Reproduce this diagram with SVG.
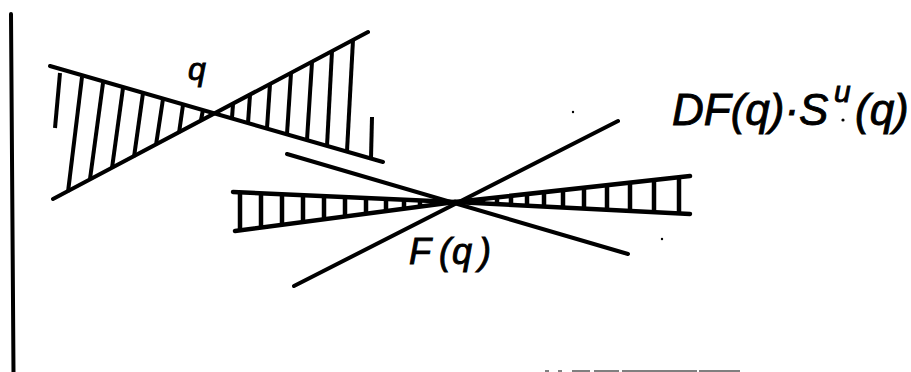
<svg xmlns="http://www.w3.org/2000/svg" width="911" height="372" viewBox="0 0 911 372">
<style>
.ln{stroke:#000;stroke-width:4;fill:none;stroke-linecap:round}
.ht{stroke:#000;stroke-width:4;fill:none;stroke-linecap:butt}
.lw{stroke-width:4.5}
.lbl{font-family:"Liberation Sans",Arial,sans-serif;font-style:italic;fill:#000;stroke:#000;stroke-width:0.9}
.gr{stroke:#808080;stroke-width:2;fill:none}
</style>
<rect width="911" height="372" fill="#fff"/>
<g id="frame">
<line class="ln" x1="11" y1="14" x2="13.5" y2="372"/>
<line class="gr" x1="545" y1="371" x2="549" y2="371"/>
<line class="gr" x1="558" y1="371" x2="562" y2="371"/>
<line class="gr" x1="572" y1="371" x2="590" y2="371"/>
<line class="gr" x1="594" y1="371" x2="619" y2="371"/>
<line class="gr" x1="622" y1="371" x2="697" y2="371"/>
<line class="gr" x1="699" y1="371" x2="740" y2="371"/>
</g>
<g id="node-q">
<line class="ln" x1="50" y1="66" x2="383" y2="162"/>
<line class="ln" x1="53" y1="199" x2="368" y2="32"/>
<g class="ht">
<line x1="60" y1="73" x2="55" y2="128"/>
<line x1="82" y1="77" x2="68" y2="192"/>
<line x1="103" y1="83" x2="90" y2="179"/>
<line x1="123" y1="88" x2="112" y2="168"/>
<line x1="143" y1="93" x2="134" y2="157"/>
<line x1="163" y1="99" x2="156" y2="145"/>
<line x1="183" y1="105" x2="179" y2="133"/>
<line x1="203" y1="110" x2="201" y2="120"/>
<line x1="233" y1="104" x2="232" y2="118"/>
<line x1="250" y1="95" x2="248" y2="123"/>
<line x1="270" y1="84" x2="267" y2="128"/>
<line x1="291" y1="73" x2="287" y2="134"/>
<line x1="312" y1="62" x2="307" y2="140"/>
<line x1="332" y1="51" x2="327" y2="146"/>
<line x1="353" y1="40" x2="347" y2="151"/>
<line x1="372" y1="117" x2="371" y2="158"/>
</g>
<text class="lbl" x="188" y="80" font-size="32">q</text>
</g>
<g id="node-Fq">
<line class="ln lw" x1="233" y1="192" x2="455" y2="202"/>
<line class="ln lw" x1="235" y1="231" x2="455" y2="202"/>
<line class="ln lw" x1="455" y1="202" x2="690" y2="176"/>
<line class="ln lw" x1="455" y1="202" x2="690" y2="214"/>
<g class="ht lw">
<line x1="240" y1="192" x2="240" y2="231"/>
<line x1="261" y1="193" x2="261" y2="228"/>
<line x1="282" y1="194" x2="282" y2="225"/>
<line x1="303" y1="195" x2="303" y2="222"/>
<line x1="324" y1="196" x2="324" y2="219.5"/>
<line x1="345" y1="197" x2="345" y2="216.5"/>
<line x1="366" y1="198" x2="366" y2="214"/>
<line x1="386" y1="199" x2="386" y2="211"/>
<line x1="404" y1="199.5" x2="404" y2="209"/>
<line x1="420" y1="200" x2="420" y2="207"/>
<line x1="434" y1="201" x2="434" y2="205"/>
<line x1="483" y1="198.5" x2="483" y2="204"/>
<line x1="497" y1="197" x2="497" y2="204.5"/>
<line x1="511" y1="195.5" x2="511" y2="205"/>
<line x1="527" y1="194" x2="527" y2="206"/>
<line x1="544" y1="192" x2="544" y2="207"/>
<line x1="563" y1="190" x2="563" y2="208"/>
<line x1="584" y1="187.5" x2="584" y2="209"/>
<line x1="607" y1="185" x2="607" y2="210"/>
<line x1="630" y1="182.5" x2="630" y2="211"/>
<line x1="654" y1="180" x2="654" y2="212.5"/>
<line x1="679" y1="177" x2="679" y2="214"/>
</g>
<text class="lbl" font-size="36" y="264"><tspan x="409">F</tspan><tspan x="439">(</tspan><tspan x="452">q</tspan><tspan x="479">)</tspan></text>
</g>
<g id="connectors">
<line class="ln" x1="287" y1="154" x2="628" y2="254"/>
<line class="ln" x1="294" y1="286" x2="618" y2="121"/>
</g>
<g id="label-DF">
<text class="lbl" font-size="44" x="672" y="125">DF(q)·S</text>
<text class="lbl" font-size="30" x="834" y="102">u</text>
<text class="lbl" font-size="44" x="855" y="125">(q)</text>
<circle cx="843" cy="120" r="1.6" fill="#000"/>
</g>
<g id="specks" fill="#000">
<circle cx="573" cy="112" r="1.2"/>
<circle cx="662" cy="239" r="1.2"/>
</g>
</svg>
